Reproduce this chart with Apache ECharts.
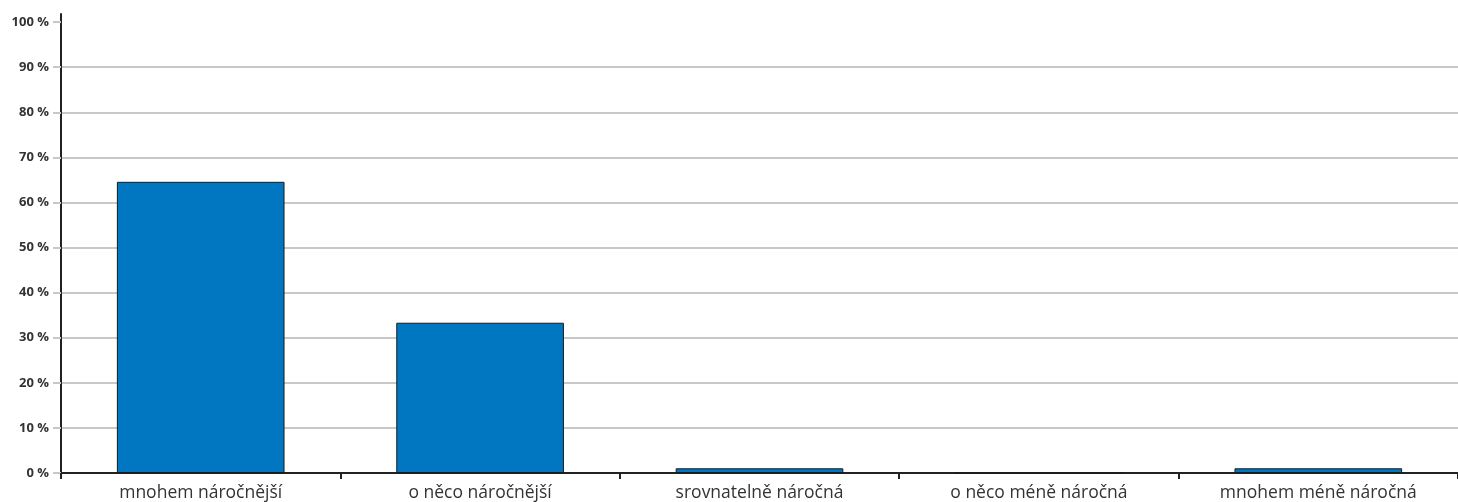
<!DOCTYPE html>
<html>
<head>
<meta charset="utf-8">
<script src="https://cdn.jsdelivr.net/npm/echarts@6/dist/echarts.min.js"></script>
<style>
html,body{margin:0;padding:0;background:#fff;}
#chart{width:1458px;height:502px;}
</style>
</head>
<body>
<div id="chart"></div>
<script>
const categories = ['mnohem náročnější', 'o něco náročnější', 'srovnatelně náročná', 'o něco méně náročná', 'mnohem méně náročná'];
const values = [64.58, 33.33, 1.04, 0, 1.04];
const yTicks = [0, 10, 20, 30, 40, 50, 60, 70, 80, 90, 100];

const chart = echarts.init(document.getElementById('chart'), null, {renderer: 'canvas'});
chart.setOption({
  animation: false,
  grid: {left: 61, right: -5, top: 14, bottom: 29, containLabel: false},
  xAxis: {
    type: 'category',
    data: categories,
    boundaryGap: true,
    axisLine: {show: true, lineStyle: {color: '#222', width: 2}},
    axisTick: {show: true, alignWithLabel: false, length: 6, lineStyle: {color: '#222', width: 2}},
    axisLabel: {color: '#333', fontFamily: 'Open Sans', fontSize: 17.5, margin: 11, interval: 0},
    splitLine: {show: false}
  },
  yAxis: {
    type: 'value',
    min: 0,
    max: 101.8,
    axisLine: {show: true, onZero: false, lineStyle: {color: '#222', width: 2}},
    axisTick: {show: true, length: 8, customValues: yTicks, lineStyle: {color: '#c8c8c8', width: 2}},
    axisLabel: {customValues: yTicks, color: '#333', fontFamily: 'Open Sans', fontWeight: 'bold', fontSize: 13, margin: 12,
      formatter: v => v + ' %'},
    splitLine: {show: true, showMaxLine: false, lineStyle: {color: '#c8c8c8', width: 2}}
  },
  series: [{
    type: 'bar',
    data: values,
    barWidth: '60%',
    itemStyle: {color: '#0077c0', borderColor: '#1a1a1a', borderWidth: 1}
  }]
});
</script>
</body>
</html>
